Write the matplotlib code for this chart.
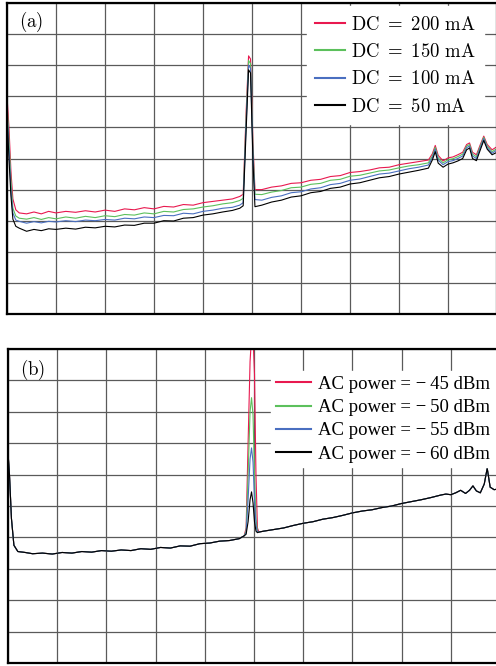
import numpy as np
import matplotlib
matplotlib.use("Agg")
import matplotlib.pyplot as plt

plt.rcParams['mathtext.fontset'] = 'cm'

# --------------------------
# Data (grid units: 10 x 10 divisions)
# --------------------------
xa = [0.0, 0.04, 0.08, 0.12, 0.18, 0.25, 0.4, 0.55, 0.7, 0.85, 1.0, 1.2, 1.4, 1.6, 1.8,
      2.0, 2.2, 2.4, 2.6, 2.8, 3.0, 3.2, 3.4, 3.6, 3.8, 4.0, 4.2, 4.4, 4.6, 4.75,
      4.82, 4.88, 4.93, 4.97, 5.02, 5.06, 5.2, 5.4, 5.6, 5.8, 6.0, 6.2, 6.4, 6.6, 6.8,
      7.0, 7.2, 7.4, 7.6, 7.8, 8.0, 8.2, 8.4, 8.6, 8.68, 8.74, 8.8, 8.9, 9.0, 9.1,
      9.2, 9.3, 9.38, 9.44, 9.5, 9.58, 9.66, 9.73, 9.8, 9.9, 10.0]

dc_200 = [7.0, 6.0, 4.6, 3.7, 3.35, 3.25, 3.22, 3.28, 3.22, 3.3, 3.25, 3.3, 3.27, 3.32, 3.28,
          3.34, 3.3, 3.38, 3.35, 3.42, 3.38, 3.46, 3.44, 3.52, 3.5, 3.58, 3.62, 3.66, 3.7, 3.78,
          3.85, 6.5, 8.3, 8.2, 5.5, 4.0, 4.0, 4.08, 4.12, 4.2, 4.22, 4.3, 4.33, 4.42, 4.45,
          4.55, 4.58, 4.63, 4.7, 4.72, 4.8, 4.85, 4.9, 4.95, 5.15, 5.42, 5.1, 4.92, 5.02, 5.05,
          5.12, 5.2, 5.45, 5.5, 5.2, 5.12, 5.45, 5.72, 5.45, 5.28, 5.38]
dc_150 = [6.8, 5.6, 4.3, 3.4, 3.15, 3.08, 3.05, 3.1, 3.04, 3.1, 3.06, 3.12, 3.08, 3.14, 3.1,
          3.16, 3.13, 3.2, 3.18, 3.25, 3.22, 3.3, 3.28, 3.36, 3.38, 3.44, 3.48, 3.54, 3.58, 3.65,
          3.72, 6.3, 8.15, 8.05, 5.3, 3.85, 3.84, 3.92, 3.97, 4.06, 4.08, 4.17, 4.2, 4.3, 4.33,
          4.43, 4.46, 4.53, 4.6, 4.63, 4.7, 4.76, 4.8, 4.86, 5.08, 5.36, 5.02, 4.86, 4.96, 4.99,
          5.06, 5.14, 5.4, 5.45, 5.14, 5.06, 5.4, 5.68, 5.4, 5.22, 5.32]
dc_100 = [6.6, 5.3, 4.0, 3.25, 3.02, 2.98, 2.92, 2.97, 2.93, 2.98, 2.96, 3.0, 2.97, 3.02, 3.0,
          3.04, 3.02, 3.08, 3.06, 3.12, 3.1, 3.17, 3.16, 3.24, 3.22, 3.3, 3.34, 3.4, 3.43, 3.5,
          3.58, 6.1, 8.0, 7.9, 5.1, 3.68, 3.66, 3.75, 3.8, 3.9, 3.93, 4.02, 4.06, 4.16, 4.2,
          4.3, 4.34, 4.42, 4.5, 4.53, 4.6, 4.67, 4.72, 4.79, 5.02, 5.3, 4.95, 4.8, 4.9, 4.93,
          5.0, 5.08, 5.35, 5.4, 5.08, 5.0, 5.35, 5.64, 5.35, 5.17, 5.27]
dc_50 = [6.4, 5.0, 3.8, 3.05, 2.82, 2.76, 2.66, 2.72, 2.68, 2.74, 2.72, 2.76, 2.73, 2.79, 2.77,
         2.82, 2.8, 2.86, 2.85, 2.92, 2.92, 3.0, 2.99, 3.08, 3.1, 3.18, 3.22, 3.28, 3.33, 3.4,
         3.48, 5.9, 7.85, 7.75, 4.9, 3.45, 3.5, 3.6, 3.66, 3.76, 3.8, 3.9, 3.94, 4.04, 4.08,
         4.18, 4.22, 4.3, 4.38, 4.42, 4.5, 4.56, 4.62, 4.69, 4.95, 5.22, 4.85, 4.72, 4.82, 4.86,
         4.92, 5.0, 5.28, 5.34, 5.0, 4.93, 5.28, 5.58, 5.3, 5.12, 5.2]

dc_labels = [r'$\mathrm{DC}\ =\ 200\ \mathrm{mA}$', r'$\mathrm{DC}\ =\ 150\ \mathrm{mA}$',
             r'$\mathrm{DC}\ =\ 100\ \mathrm{mA}$', r'$\mathrm{DC}\ =\ 50\ \mathrm{mA}$']

# panel (b): common background trace + the modulation peak for each AC power
xb_pre = [0.0, 0.03, 0.07, 0.12, 0.2, 0.35, 0.5, 0.7, 0.9, 1.1, 1.3, 1.5, 1.7, 1.9, 2.1,
          2.3, 2.5, 2.7, 2.9, 3.1, 3.3, 3.5, 3.7, 3.9, 4.1, 4.3, 4.5, 4.7, 4.8]
yb_pre = [6.7, 6.0, 4.6, 3.75, 3.55, 3.52, 3.48, 3.5, 3.47, 3.52, 3.5, 3.55, 3.53, 3.58, 3.56,
          3.6, 3.58, 3.64, 3.62, 3.68, 3.66, 3.73, 3.72, 3.8, 3.82, 3.88, 3.9, 3.96, 4.05]
xb_peak = [4.84, 4.88, 4.92, 4.95, 4.98, 5.01, 5.04, 5.07]
peak_45 = [4.3, 7.0, 9.6, 10.4, 10.4, 9.2, 6.0, 4.3]
peak_50 = [4.2, 6.0, 8.0, 8.45, 7.9, 6.0, 4.6, 4.2]
peak_55 = [4.15, 5.2, 6.5, 6.85, 6.4, 5.2, 4.4, 4.17]
peak_60 = [4.1, 4.5, 5.2, 5.45, 5.1, 4.5, 4.2, 4.15]
xb_post = [5.1, 5.2, 5.4, 5.6, 5.8, 6.0, 6.2, 6.4, 6.6, 6.8, 7.0, 7.2, 7.4, 7.6, 7.8,
           8.0, 8.2, 8.4, 8.6, 8.8, 8.9, 9.0, 9.1, 9.2, 9.3, 9.38, 9.45, 9.52, 9.6, 9.68,
           9.74, 9.8, 9.88, 10.0]
yb_post = [4.17, 4.2, 4.25, 4.3, 4.38, 4.45, 4.5, 4.58, 4.63, 4.7, 4.78, 4.84, 4.88, 4.95, 5.0,
           5.08, 5.14, 5.2, 5.27, 5.35, 5.38, 5.36, 5.42, 5.5, 5.4, 5.5, 5.64, 5.48, 5.42, 5.7,
           6.2, 5.6, 5.52, 5.55]

ac_labels = ['AC power = \u2212\u200945 dBm', 'AC power = \u2212\u200950 dBm',
             'AC power = \u2212\u200955 dBm', 'AC power = \u2212\u200960 dBm']

colors = ['#e8194f', '#5cc05c', '#4a6fc0', '#000000']

# --------------------------
# Figure
# --------------------------
W, H = 496, 666
fig = plt.figure(figsize=(W / 100, H / 100), dpi=100)
ax_a = fig.add_axes([7 / W, (H - 314) / H, 490 / W, 311 / H])
ax_b = fig.add_axes([8 / W, (H - 663) / H, 492 / W, 314 / H])


def style_axes(ax):
    ax.set_xlim(0, 10)
    ax.set_ylim(0, 10)
    ax.set_xticks(np.arange(0, 11, 1))
    ax.set_yticks(np.arange(0, 11, 1))
    ax.grid(True, color='#5a5a5a', lw=0.9)
    ax.tick_params(length=0, labelbottom=False, labelleft=False)
    for sp in ax.spines.values():
        sp.set_linewidth(1.6)
        sp.set_color('black')


style_axes(ax_a)
for ys, c, lab in zip([dc_200, dc_150, dc_100, dc_50], colors, dc_labels):
    ax_a.plot(xa, ys, color=c, lw=0.8, label=lab)
leg_a = ax_a.legend(loc='upper left', bbox_to_anchor=(0.612, 0.99), borderaxespad=0,
                    fontsize=13.5, handlelength=1.6, handletextpad=0.3,
                    labelspacing=0.45, frameon=True, fancybox=False,
                    framealpha=1, edgecolor='white', borderpad=0.45)
for h in leg_a.get_lines():
    h.set_linewidth(1.5)
ax_a.text(0.048, 0.939, r'$\mathrm{(a)}$', transform=ax_a.transAxes, fontsize=13.5,
          ha='center', va='center')

style_axes(ax_b)
for pk, c, lab in zip([peak_45, peak_50, peak_55, peak_60], colors, ac_labels):
    xs = xb_pre + xb_peak + xb_post
    ys = yb_pre + pk + yb_post
    ax_b.plot(xs, ys, color=c, lw=0.8, label=lab)
leg_b = ax_b.legend(loc='upper left', bbox_to_anchor=(0.535, 0.93), borderaxespad=0,
                    prop={'family': 'Liberation Serif', 'size': 13.5},
                    handlelength=1.85, handletextpad=0.4, labelspacing=0.33,
                    frameon=True, fancybox=False, framealpha=1, edgecolor='white',
                    borderpad=0.25)
for h in leg_b.get_lines():
    h.set_linewidth(1.5)
ax_b.text(0.049, 0.933, r'$\mathrm{(b)}$', transform=ax_b.transAxes, fontsize=13.5,
          ha='center', va='center')

fig.savefig('out.png', dpi=100)
